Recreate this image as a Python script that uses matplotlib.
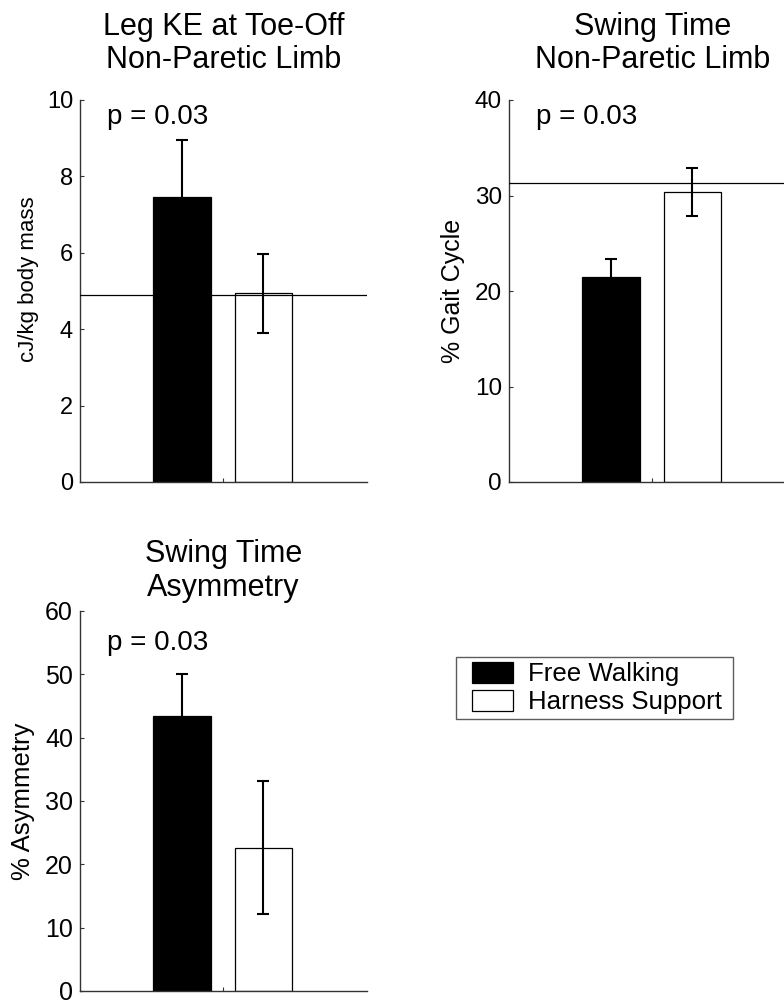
import matplotlib
matplotlib.use('Agg')
import matplotlib.pyplot as plt
from matplotlib.patches import Rectangle
from matplotlib.legend_handler import HandlerPatch

plt.rcParams['font.family'] = ['Liberation Sans', 'DejaVu Sans']

W, H = 784, 1001

groups = ['Free Walking', 'Harness Support']
bar_colors = ['black', 'white']

# Leg KE at toe-off, non-paretic limb (cJ/kg body mass)
ke_mean = [7.45, 4.94]
ke_err = [1.50, 1.03]
ke_ref = 4.89

# Swing time, non-paretic limb (% gait cycle)
swing_mean = [21.5, 30.4]
swing_err = [1.8, 2.5]
swing_ref = 31.3

# Swing time asymmetry (% asymmetry)
asym_mean = [43.4, 22.6]
asym_err = [6.65, 10.5]

p_text = 'p = 0.03'

fig = plt.figure(figsize=(W / 100, H / 100), dpi=100)


def px_axes(left, top, width, height):
    return fig.add_axes([left / W, 1 - (top + height) / H, width / W, height / H])


def panel(ax, means, errs, ylim, yticks, title, ylabel, ref=None,
          tick_fs=17, lab_fs=16, title_pad=23, p_y=0.99, lab_x=-0.18, lab_y=0.5):
    x = [1, 2]
    bars = ax.bar(x, means, width=0.705, color=bar_colors, edgecolor='black',
                  linewidth=0.9, zorder=2)
    ax.errorbar(x, means, yerr=errs, fmt='none', ecolor='black', elinewidth=1.5,
                capsize=4.5, capthick=1.5, zorder=3)
    if ref is not None:
        ax.axhline(ref, color='black', linewidth=0.9, zorder=4)
    ax.set_xlim(-0.25, 3.27)
    ax.set_ylim(*ylim)
    ax.set_yticks(yticks)
    ax.set_xticks([1.5])
    ax.set_xticklabels([])
    for s in ['top', 'right']:
        ax.spines[s].set_visible(False)
    for s in ['left', 'bottom']:
        ax.spines[s].set_color('#333333')
        ax.spines[s].set_linewidth(1.0)
    ax.tick_params(direction='in', length=3, width=0.8, colors='#333333',
                   labelcolor='black', labelsize=tick_fs, pad=5)
    ax.set_title(title, fontsize=22, pad=title_pad, linespacing=1.15)
    ax.set_ylabel(ylabel, fontsize=lab_fs, va='center')
    ax.yaxis.set_label_coords(lab_x, lab_y)
    ax.text(0.095, p_y, p_text, transform=ax.transAxes, fontsize=20,
            ha='left', va='top')
    return bars


ax1 = px_axes(80, 100, 287, 382)
bars = panel(ax1, ke_mean, ke_err, (0, 10), [0, 2, 4, 6, 8, 10],
             'Leg KE at Toe-Off\nNon-Paretic Limb', 'cJ/kg body mass',
             ref=ke_ref, tick_fs=17, lab_fs=16, p_y=0.99, lab_x=-0.178,
             lab_y=0.53)

ax2 = px_axes(509, 100, 287, 382)
panel(ax2, swing_mean, swing_err, (0, 40), [0, 10, 20, 30, 40],
      'Swing Time\nNon-Paretic Limb', '% Gait Cycle',
      ref=swing_ref, tick_fs=17.5, lab_fs=18, p_y=0.99, lab_x=-0.195)

ax3 = px_axes(80, 611, 287, 380)
panel(ax3, asym_mean, asym_err, (0, 60), [0, 10, 20, 30, 40, 50, 60],
      'Swing Time\nAsymmetry', '% Asymmetry',
      tick_fs=18, lab_fs=18.5, title_pad=11, p_y=0.95, lab_x=-0.2)


# legend swatches sit a little in from the frame, as in the original
def offset_patch(legend, orig_handle, xdescent, ydescent, width, height, fontsize):
    shift = 8
    return Rectangle((-xdescent + shift, -ydescent), width - shift, height)


leg = fig.legend(bars, groups, loc='upper left',
                 bbox_to_anchor=(456 / W, 1 - 721 / H, 277 / W, 64 / H),
                 mode='expand', fontsize=18.6,
                 frameon=True, fancybox=False, edgecolor='#333333',
                 borderpad=0.2, labelspacing=0.14, handlelength=2.0,
                 handleheight=0.85, handletextpad=0.58, borderaxespad=0,
                 handler_map={Rectangle: HandlerPatch(patch_func=offset_patch)})
leg.get_frame().set_linewidth(1.0)

fig.savefig('out.png', dpi=100)
